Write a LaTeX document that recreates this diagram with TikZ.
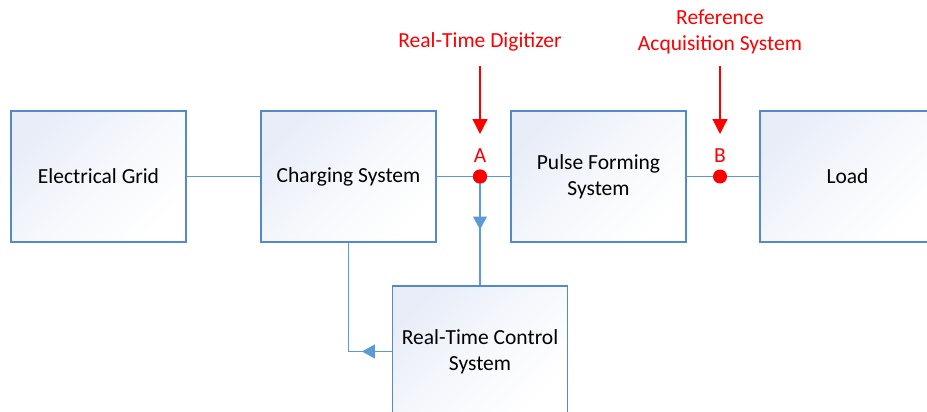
\documentclass[tikz,border=0pt]{standalone}
\usepackage{fontspec}
\setmainfont{Carlito}
\usetikzlibrary{arrows.meta,decorations.markings,calc}
\definecolor{boxborder}{RGB}{84,138,204}
\definecolor{linkblue}{RGB}{91,155,213}
\definecolor{boxtint}{RGB}{232,237,248}
\definecolor{probered}{RGB}{255,0,0}
\tikzset{
  blockbox/.style={draw=boxborder, line width=1.2pt, top color=boxtint, bottom color=white, middle color=white!60!boxtint, shading angle=45,
    minimum width=175pt, minimum height=131pt, align=center, font=\fontsize{21.5}{26}\selectfont, text=black, inner sep=0pt},
  link/.style={draw=linkblue, line width=1.2pt},
  probe/.style={circle, fill=probered, minimum size=14pt, inner sep=0pt},
  probelabel/.style={text=probered, font=\fontsize{21.5}{26}\selectfont, align=center, inner sep=0pt},
  probearrow/.style={draw=probered, line width=1.2pt, -{Triangle[length=15pt,width=15pt]}},
  midtri/.style={postaction={decorate}, decoration={markings, mark=#1 with {\arrow[linkblue]{Triangle[length=13pt,width=14pt]}}}}
}
\begin{document}
\begin{tikzpicture}[x=1pt,y=-1pt]
\useasboundingbox (0,0) rectangle (927,412);
\clip (0,0) rectangle (927,412);
\node[blockbox] (Grid) at (98.5,176.5) {Electrical Grid};
\node[blockbox] (Charge) at (348.5,176.5) {Charging System};
\node[blockbox] (Pulse) at (598.5,176.5) {Pulse Forming\\System};
\node[blockbox] (Load) at (847.5,176.5) {Load};
\node[blockbox] (RTC) at (480,351.5) {Real-Time Control\\System};
\node[probe] (A) at (480,176.5) {};
\node[probe] (B) at (720,176.5) {};
\node[probelabel] (LA) at (480,156) {A};
\node[probelabel] (LB) at (720,156) {B};
\node[probelabel] (Dig) at (480,42) {Real-Time Digitizer};
\node[probelabel] (Ref) at (720,32) {Reference\\Acquisition System};
\coordinate (DigTop) at (480,66);
\coordinate (DigTip) at (480,134);
\coordinate (RefTop) at (720,66);
\coordinate (RefTip) at (720,134);
\draw[link] (Grid.east) -- (Charge.west);
\draw[link] (Charge.east) -- (A);
\draw[link] (A) -- (Pulse.west);
\draw[link] (Pulse.east) -- (B);
\draw[link] (B) -- (Load.west);
\draw[link, midtri={at position 53pt}] (A.center) -- (RTC.north);
\draw[link, midtri={at position 30pt}] (RTC.west) -| (Charge.south);
\node[probe] at (A) {};
\draw[probearrow] (DigTop) -- (DigTip);
\draw[probearrow] (RefTop) -- (RefTip);
\end{tikzpicture}
\end{document}
